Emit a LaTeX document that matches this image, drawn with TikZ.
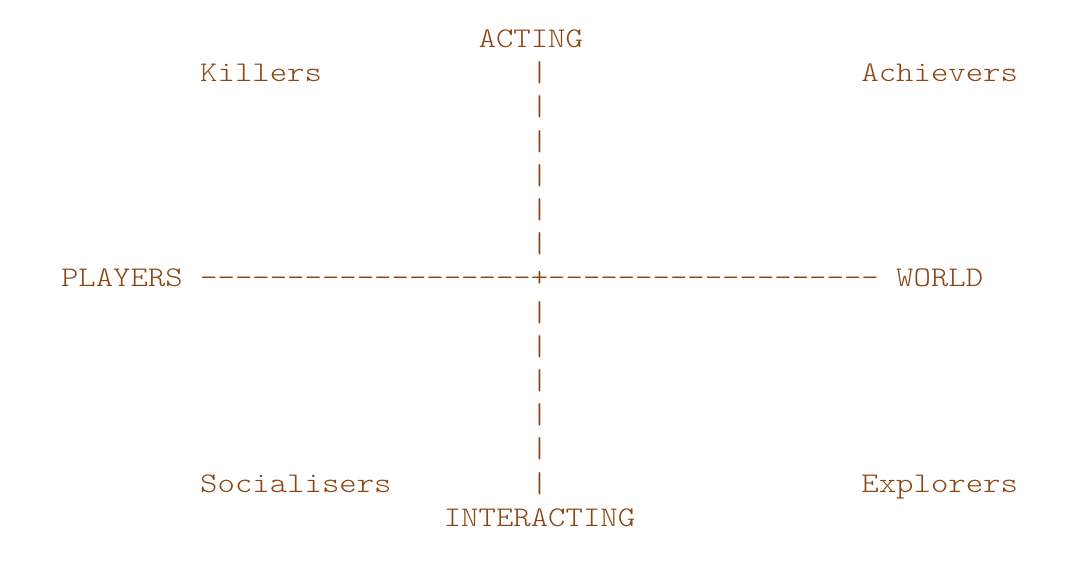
\documentclass[tikz,border=0pt]{standalone}
\usepackage{fontspec}
\setmonofont{Latin Modern Mono Light}[FakeStretch=1.163]
\definecolor{ink}{HTML}{8B4513}
\begin{document}
\begin{tikzpicture}[x=1pt,y=-1pt,
  txt/.style={anchor=base west, inner sep=0pt, outer sep=0pt, text=ink,
    font=\ttfamily\fontsize{28.5}{34}\selectfont}]
\useasboundingbox (0,0) rectangle (1089,560);
\def\cw{17.4}\def\xo{61}\def\bl{47.4}\def\rh{34.2}
% top and bottom labels
\node[txt] (acting) at ({\xo+24*\cw},{\bl+0*\rh}) {ACTING};
\node[txt] (interacting) at ({\xo+22*\cw},{\bl+14*\rh}) {INTERACTING};
% quadrant labels
\node[txt] (killers) at ({\xo+8*\cw},{\bl+1*\rh}) {Killers};
\node[txt] (achievers) at ({\xo+46*\cw},{\bl+1*\rh}) {Achievers};
\node[txt] (socialisers) at ({\xo+8*\cw},{\bl+13*\rh}) {Socialisers};
\node[txt] (explorers) at ({\xo+46*\cw},{\bl+13*\rh}) {Explorers};
% horizontal axis row
\node[txt] (players) at ({\xo+0*\cw},{\bl+7*\rh}) {PLAYERS};
\node[txt] (haxis) at ({\xo+8*\cw},{\bl+7*\rh}) {-------------------+-------------------};
\node[txt] (world) at ({\xo+48*\cw},{\bl+7*\rh}) {WORLD};
% vertical axis bars
\foreach \r in {1,...,6,8,9,...,13}
  \node[txt] (bar\r) at ({\xo+27*\cw},{\bl+\r*\rh}) {|};
\end{tikzpicture}
\end{document}
